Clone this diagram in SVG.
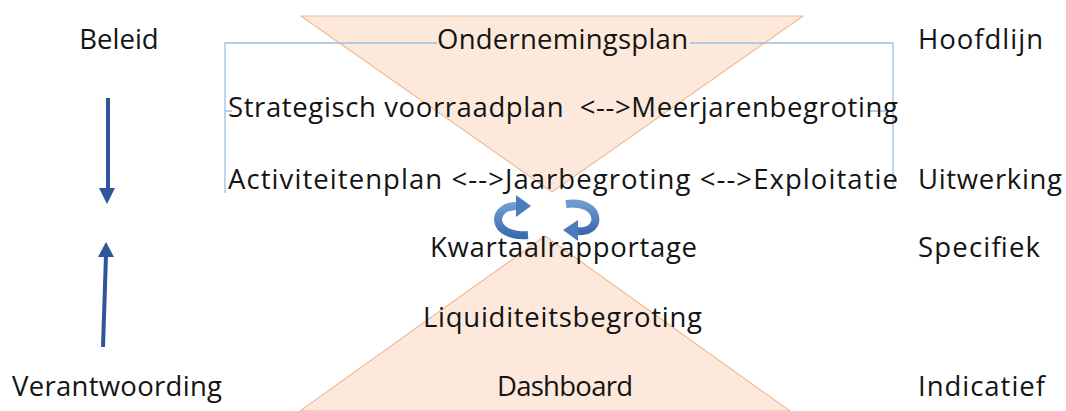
<svg xmlns="http://www.w3.org/2000/svg" width="1066" height="411" viewBox="0 0 1066 411">
<style>
.t{font-family:"Open Sans","Liberation Sans",sans-serif;font-size:27.5px;fill:#141414;}
.tri{fill:#fce9dc;stroke:#f0bd95;stroke-width:1.2;}
.frame{fill:none;stroke:#9fbde0;stroke-width:1.3;}
.va{stroke:#2f559b;stroke-width:4;fill:none;}
.vh{fill:#2f559b;}
.carc{fill:none;stroke:url(#bg);stroke-width:8;}
.chead{fill:#4a7bba;}
</style>
<defs>
<linearGradient id="bg" x1="0" y1="0" x2="0" y2="1">
<stop offset="0" stop-color="#6e9bd2"/>
<stop offset="1" stop-color="#3c6cab"/>
</linearGradient>
</defs>
<rect width="1066" height="411" fill="#fff"/>
<g id="shapes">
<polygon class="tri" points="301,16 803,16 552,192"/>
<polygon class="tri" points="545,236 300,411 790,411"/>
</g>
<g id="connectors">
<path class="frame" d="M437 43 H225 V193 M225 111 H232 M690 43 H893 V188 M870 111 H893"/>
<line class="va" x1="108" y1="98" x2="108" y2="190"/>
<polygon class="vh" points="99,188 115,188 107,204"/>
<line class="va" x1="103" y1="347" x2="106" y2="255"/>
<polygon class="vh" points="98,257 114,257 106,242"/>
<path class="carc" d="M528 235 C490 238 490 205 518 206"/>
<polygon class="chead" points="516,195 531,206 516,217"/>
<path class="carc" d="M566 204 C602 199 604 234 577 231"/>
<polygon class="chead" points="578,220 563,230 578,241"/>
</g>
<g id="labels-left">
<text class="t" x="119" y="49" text-anchor="middle">Beleid</text>
<text class="t" x="12" y="396" textLength="210">Verantwoording</text>
</g>
<g id="node-ondernemingsplan"><text class="t" x="437" y="49" textLength="251">Ondernemingsplan</text></g>
<g id="node-strategisch"><text class="t" x="228" y="117" textLength="670" xml:space="preserve">Strategisch voorraadplan  &lt;--&gt;Meerjarenbegroting</text></g>
<g id="node-activiteiten"><text class="t" x="228" y="189" textLength="670">Activiteitenplan &lt;--&gt;Jaarbegroting &lt;--&gt;Exploitatie</text></g>
<g id="node-kwartaal"><text class="t" x="430" y="257" textLength="267">Kwartaalrapportage</text></g>
<g id="node-liquiditeit"><text class="t" x="423" y="327" textLength="279">Liquiditeitsbegroting</text></g>
<g id="node-dashboard"><text class="t" x="497" y="396" textLength="136">Dashboard</text></g>
<g id="labels-right">
<text class="t" x="918" y="49" textLength="125">Hoofdlijn</text>
<text class="t" x="918" y="189" textLength="144">Uitwerking</text>
<text class="t" x="918" y="257" textLength="122">Specifiek</text>
<text class="t" x="918" y="396" textLength="127">Indicatief</text>
</g>
</svg>
